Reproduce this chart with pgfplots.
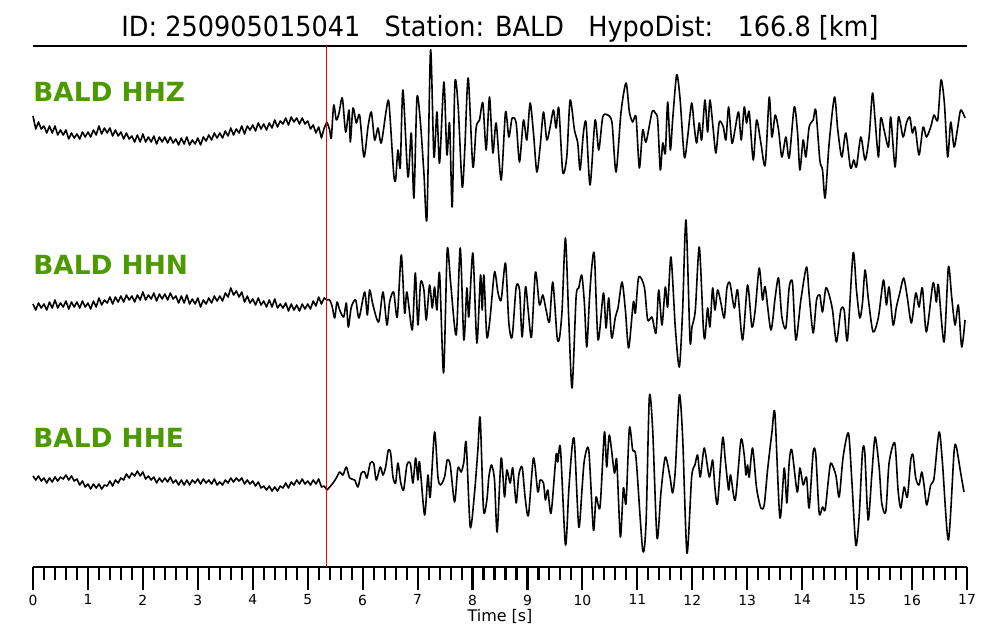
\documentclass[border=0pt]{standalone}
\usepackage{fontspec}
\setmainfont{DejaVu Sans}
\newfontfamily\titlefont[FakeStretch=0.92]{DejaVu Sans}
\usepackage{pgfplots}
\pgfplotsset{compat=1.18}
\definecolor{lblgreen}{RGB}{76,153,0}
\begin{document}
\begin{tikzpicture}
\path[use as bounding box] (0,0) rectangle (720pt,460.8pt);
\node[anchor=base, inner sep=0pt] at (360pt,434.2pt) {\titlefont\fontsize{20}{24}\selectfont ID: 250905015041\ \ \ Station: BALD\ \ \ HypoDist:\ \ \ 166.8 [km]};
\node[anchor=center, inner sep=0pt] at (360pt,16.6pt) {\fontsize{11.5}{13}\selectfont Time [s]};
\begin{axis}[
  at={(23.76pt,52.56pt)}, anchor=south west,
  scale only axis, width=672.48pt, height=375.12pt,
  xmin=0, xmax=17, ymin=46, ymax=567, y dir=reverse,
  axis y line=none, axis x line*=bottom,
  axis line style={line width=1.4pt, black},
  xtick={0,1,...,17}, minor x tick num=4,
  tick align=outside,
  major tick length=16.5pt, minor tick length=9.4pt,
  tick style={black, line width=1.5pt},
  xtick style={black, line width=1.5pt},
  /pgf/number format/assume math mode=true,
  xticklabel style={font=\fontsize{10}{11}\selectfont},
  clip=false,
  noise/.style={black, line width=1.15pt, mark=none, line join=round},
  sig/.style={black, line width=1.15pt, mark=none, smooth, tension=0.45, line join=round},
]
\draw[line width=1.1pt] (axis cs:0,46) -- (axis cs:17,46);
% HHZ
\addplot[noise] coordinates {
(0.00,116)(0.05,129)(0.10,122)(0.15,129)(0.20,126)(0.25,133)(0.30,126)(0.35,133)(0.40,126)(0.45,135)(0.50,130)(0.55,135)(0.60,130)(0.65,139)(0.70,133)(0.75,138)(0.80,134)(0.85,139)(0.90,132)(0.95,137)(1.00,132)(1.05,137)(1.10,130)(1.15,135)(1.20,126)(1.25,134)(1.30,128)(1.35,133)(1.40,128)(1.45,136)(1.50,130)(1.55,136)(1.60,132)(1.65,139)(1.70,133)(1.75,139)(1.80,136)(1.85,142)(1.90,135)(1.95,142)(2.00,134)(2.05,142)(2.10,137)(2.15,142)(2.20,136)(2.25,144)(2.30,137)(2.35,142)(2.40,137)(2.45,143)(2.50,137)(2.55,143)(2.60,139)(2.65,145)(2.70,138)(2.75,144)(2.80,137)(2.85,145)(2.90,140)(2.95,144)(3.00,138)(3.05,145)(3.10,137)(3.15,141)(3.20,135)(3.25,140)(3.30,133)(3.35,138)(3.40,133)(3.45,138)(3.50,131)(3.55,136)(3.60,128)(3.65,135)(3.70,129)(3.75,133)(3.80,126)(3.85,134)(3.90,126)(3.95,130)(4.00,125)(4.05,131)(4.10,123)(4.15,129)(4.20,124)(4.25,130)(4.30,123)(4.35,128)(4.40,120)(4.45,127)(4.50,121)(4.55,124)(4.60,118)(4.65,125)(4.70,117)(4.75,122)(4.80,118)(4.85,124)(4.90,118)(4.95,124)(5.00,121)(5.05,129)(5.10,125)(5.15,133)(5.20,127)(5.25,138)(5.30,128)(5.35,122)
};
\addplot[sig] coordinates {
(5.35,122)(5.400,130)(5.430,138)(5.473,105)(5.521,120)(5.570,113)(5.630,98)(5.691,132)(5.752,110)(5.776,142)(5.824,108)(5.885,123)(5.945,115)(6.024,157)(6.097,127)(6.158,112)(6.218,140)(6.279,128)(6.339,143)(6.430,110)(6.479,103)(6.564,173)(6.600,180)(6.642,150)(6.685,167)(6.733,90)(6.824,177)(6.885,133)(6.933,198)(6.988,98)(7.048,120)(7.115,173)(7.170,218)(7.236,50)(7.297,157)(7.352,112)(7.400,163)(7.479,82)(7.533,155)(7.582,123)(7.630,207)(7.679,83)(7.739,107)(7.812,187)(7.861,147)(7.921,78)(8.006,167)(8.067,127)(8.127,120)(8.188,103)(8.248,150)(8.309,97)(8.370,153)(8.430,123)(8.521,180)(8.600,112)(8.661,137)(8.721,118)(8.794,123)(8.855,162)(8.927,120)(8.988,140)(9.048,103)(9.109,133)(9.170,172)(9.230,147)(9.291,112)(9.352,140)(9.412,127)(9.473,110)(9.521,128)(9.570,108)(9.642,172)(9.715,157)(9.776,100)(9.855,130)(9.915,143)(9.958,170)(10.018,133)(10.067,123)(10.139,185)(10.230,120)(10.297,150)(10.370,117)(10.461,115)(10.539,123)(10.612,172)(10.703,112)(10.794,83)(10.855,112)(10.915,122)(10.976,117)(11.036,168)(11.097,130)(11.158,142)
(11.267,112)(11.327,113)(11.370,120)(11.418,170)(11.461,143)(11.509,153)(11.552,102)(11.600,150)(11.642,120)(11.715,75)(11.776,98)(11.855,157)(11.915,137)(11.988,103)(12.036,127)(12.079,143)(12.127,123)(12.170,140)(12.230,100)(12.279,132)(12.321,100)(12.382,130)(12.430,153)(12.491,122)(12.564,127)(12.612,140)(12.661,107)(12.721,143)(12.782,128)(12.842,112)(12.891,140)(12.945,107)(12.988,123)(13.036,112)(13.109,160)(13.170,120)(13.248,143)(13.327,165)(13.400,97)(13.448,137)(13.509,115)(13.570,130)(13.630,157)(13.703,137)(13.764,158)(13.855,107)(13.915,132)(13.958,170)(14.018,140)(14.067,157)(14.127,127)(14.200,120)(14.248,110)(14.321,160)(14.370,170)(14.418,198)(14.491,143)(14.588,97)(14.648,130)(14.721,157)(14.794,133)(14.879,168)(14.939,160)(14.988,167)(15.067,137)(15.145,160)(15.218,137)(15.279,93)(15.327,120)(15.388,157)(15.430,118)(15.491,130)(15.570,147)(15.612,117)(15.691,167)(15.752,117)(15.836,137)(15.897,123)(15.958,117)(16.006,133)(16.055,127)(16.127,155)(16.200,127)(16.261,137)(16.339,127)(16.400,115)(16.467,120)(16.527,80)(16.588,103)(16.648,157)(16.703,122)(16.764,147)(16.824,130)(16.885,110)(16.964,118)
};
% HHN
\addplot[noise] coordinates {
(0.00,304)(0.05,310)(0.10,303)(0.15,308)(0.20,304)(0.25,310)(0.30,302)(0.35,308)(0.40,300)(0.45,308)(0.50,303)(0.55,307)(0.60,301)(0.65,309)(0.70,302)(0.75,307)(0.80,302)(0.85,308)(0.90,301)(0.95,307)(1.00,303)(1.05,309)(1.10,301)(1.15,307)(1.20,298)(1.25,305)(1.30,300)(1.35,303)(1.40,297)(1.45,304)(1.50,297)(1.55,302)(1.60,296)(1.65,302)(1.70,295)(1.75,300)(1.80,296)(1.85,302)(1.90,295)(1.95,300)(2.00,292)(2.05,300)(2.10,295)(2.15,299)(2.20,293)(2.25,301)(2.30,294)(2.35,299)(2.40,294)(2.45,300)(2.50,293)(2.55,299)(2.60,296)(2.65,303)(2.70,296)(2.75,303)(2.80,295)(2.85,304)(2.90,299)(2.95,304)(3.00,298)(3.05,307)(3.10,300)(3.15,304)(3.20,298)(3.25,303)(3.30,296)(3.35,301)(3.40,296)(3.45,301)(3.50,293)(3.55,297)(3.60,288)(3.65,295)(3.70,291)(3.75,297)(3.80,292)(3.85,302)(3.90,296)(3.95,303)(4.00,299)(4.05,305)(4.10,298)(4.15,305)(4.20,301)(4.25,307)(4.30,300)(4.35,307)(4.40,299)(4.45,308)(4.50,304)(4.55,308)(4.60,303)(4.65,311)(4.70,304)(4.75,310)(4.80,305)(4.85,311)(4.90,304)(4.95,309)(5.00,304)(5.05,309)(5.10,301)(5.15,306)(5.20,297)(5.25,304)(5.30,298)(5.35,300)
};
\addplot[sig] coordinates {
(5.35,300)(5.400,300)(5.448,307)(5.491,318)(5.533,302)(5.582,310)(5.655,317)(5.703,303)(5.739,327)(5.794,307)(5.873,300)(5.933,318)(6.036,292)(6.085,315)(6.127,290)(6.188,305)(6.291,322)(6.370,292)(6.442,325)(6.491,302)(6.564,292)(6.630,317)(6.703,255)(6.764,313)(6.806,292)(6.903,330)(6.958,273)(7.006,325)(7.055,282)(7.115,290)(7.158,320)(7.218,285)(7.267,308)(7.309,287)(7.352,310)(7.400,273)(7.473,373)(7.539,250)(7.600,282)(7.703,335)(7.776,248)(7.842,340)(7.897,288)(7.933,317)(8.006,253)(8.079,343)(8.145,275)(8.176,310)(8.206,275)(8.261,337)(8.321,317)(8.400,272)(8.461,292)(8.521,300)(8.600,263)(8.661,323)(8.721,337)(8.794,287)(8.855,290)(8.903,337)(8.964,287)(9.012,310)(9.073,337)(9.145,272)(9.218,305)(9.279,295)(9.339,310)(9.400,322)(9.461,282)(9.539,337)(9.582,338)(9.630,310)(9.691,238)(9.752,320)(9.812,388)(9.885,297)(9.933,288)(9.988,275)(10.036,303)(10.079,347)(10.127,300)(10.170,267)(10.218,255)(10.285,340)(10.382,293)(10.430,328)(10.479,298)(10.533,338)(10.600,317)(10.648,308)(10.721,282)(10.782,310)(10.842,348)(10.927,302)(10.964,313)(11.024,277)(11.127,287)(11.188,320)
(11.267,317)(11.339,333)(11.388,290)(11.448,325)(11.509,287)(11.552,307)(11.612,257)(11.691,328)(11.764,367)(11.824,310)(11.885,220)(11.958,340)(11.994,327)(12.055,310)(12.127,247)(12.200,327)(12.230,338)(12.279,308)(12.321,327)(12.370,288)(12.412,310)(12.461,290)(12.521,303)(12.582,318)(12.630,288)(12.685,283)(12.764,308)(12.824,290)(12.915,340)(13.006,285)(13.085,327)(13.145,310)(13.218,268)(13.279,300)(13.327,287)(13.430,330)(13.509,297)(13.570,278)(13.630,317)(13.703,328)(13.764,287)(13.824,283)(13.885,340)(13.976,300)(14.079,267)(14.127,295)(14.200,333)(14.261,300)(14.321,295)(14.370,312)(14.430,288)(14.491,295)(14.552,310)(14.624,342)(14.703,310)(14.764,310)(14.824,340)(14.927,253)(14.988,290)(15.048,318)(15.097,303)(15.145,270)(15.206,300)(15.291,332)(15.388,317)(15.479,280)(15.533,305)(15.582,287)(15.655,325)(15.715,307)(15.776,293)(15.848,278)(15.915,298)(15.988,323)(16.067,293)(16.127,307)(16.188,288)(16.261,332)(16.382,283)(16.442,302)(16.479,285)(16.582,342)(16.661,267)(16.721,297)(16.782,325)(16.842,305)(16.903,347)(16.964,320)
};
% HHE
\addplot[noise] coordinates {
(0.00,476)(0.05,480)(0.10,476)(0.15,481)(0.20,478)(0.25,483)(0.30,478)(0.35,482)(0.40,477)(0.45,481)(0.50,477)(0.55,479)(0.60,475)(0.65,480)(0.70,476)(0.75,481)(0.80,479)(0.85,485)(0.90,481)(0.95,487)(1.00,484)(1.05,489)(1.10,484)(1.15,488)(1.20,484)(1.25,489)(1.30,485)(1.35,486)(1.40,481)(1.45,486)(1.50,480)(1.55,483)(1.60,478)(1.65,480)(1.70,474)(1.75,478)(1.80,473)(1.85,476)(1.90,471)(1.95,476)(2.00,472)(2.05,479)(2.10,476)(2.15,480)(2.20,477)(2.25,483)(2.30,478)(2.35,482)(2.40,478)(2.45,482)(2.50,477)(2.55,483)(2.60,480)(2.65,485)(2.70,480)(2.75,485)(2.80,480)(2.85,485)(2.90,480)(2.95,483)(3.00,479)(3.05,484)(3.10,479)(3.15,483)(3.20,480)(3.25,484)(3.30,479)(3.35,485)(3.40,482)(3.45,485)(3.50,480)(3.55,483)(3.60,478)(3.65,482)(3.70,478)(3.75,481)(3.80,478)(3.85,484)(3.90,480)(3.95,484)(4.00,481)(4.05,486)(4.10,482)(4.15,488)(4.20,486)(4.25,490)(4.30,486)(4.35,491)(4.40,487)(4.45,491)(4.50,486)(4.55,488)(4.60,483)(4.65,488)(4.70,482)(4.75,485)(4.80,480)(4.85,484)(4.90,479)(4.95,484)(5.00,481)(5.05,485)(5.10,480)(5.15,484)(5.20,479)(5.25,487)(5.30,486)(5.35,490)
};
\addplot[sig] coordinates {
(5.35,490)(5.400,487)(5.461,483)(5.521,478)(5.582,472)(5.642,475)(5.703,467)(5.764,478)(5.855,480)(5.915,487)(5.976,473)(6.036,472)(6.079,478)(6.139,463)(6.200,463)(6.248,480)(6.321,467)(6.370,475)(6.418,467)(6.467,450)(6.509,453)(6.552,477)(6.600,483)(6.642,463)(6.691,482)(6.745,490)(6.806,465)(6.867,463)(6.915,483)(6.964,458)(7.006,480)(7.036,462)(7.127,515)(7.188,475)(7.230,497)(7.309,432)(7.370,477)(7.418,485)(7.491,477)(7.539,460)(7.594,465)(7.673,502)(7.733,468)(7.794,472)(7.842,462)(7.885,443)(7.958,527)(8.036,493)(8.097,450)(8.139,418)(8.200,510)(8.261,500)(8.297,477)(8.345,465)(8.400,480)(8.448,532)(8.521,458)(8.582,497)(8.624,470)(8.685,483)(8.733,468)(8.794,503)(8.842,475)(8.903,467)(8.958,498)(9.018,515)(9.109,458)(9.188,492)(9.230,480)(9.291,483)(9.327,500)(9.370,490)(9.430,513)(9.521,455)(9.552,462)(9.600,448)(9.691,545)(9.752,490)(9.812,447)(9.855,442)(9.933,527)(9.994,488)(10.036,460)(10.115,450)(10.200,530)(10.248,497)(10.321,507)(10.400,432)(10.442,467)(10.491,435)(10.582,473)(10.624,460)(10.691,537)(10.745,488)(10.794,503)(10.855,428)(10.915,450)(10.976,458)(11.097,550)(11.158,523)(11.218,397)
(11.279,430)(11.358,538)(11.430,492)(11.509,457)(11.594,477)(11.642,493)(11.691,470)(11.764,395)(11.824,437)(11.903,553)(11.988,477)(12.048,465)(12.097,455)(12.145,477)(12.218,448)(12.309,477)(12.370,460)(12.412,488)(12.461,503)(12.552,438)(12.600,460)(12.661,490)(12.697,475)(12.782,500)(12.885,440)(12.945,455)(12.976,475)(13.006,465)(13.036,477)(13.097,448)(13.170,488)(13.248,508)(13.309,505)(13.370,470)(13.448,433)(13.503,413)(13.594,518)(13.673,468)(13.721,503)(13.764,462)(13.812,450)(13.909,492)(13.958,468)(14.018,485)(14.079,477)(14.127,508)(14.200,452)(14.248,455)(14.309,513)(14.370,507)(14.418,510)(14.473,482)(14.521,463)(14.612,475)(14.673,497)(14.745,457)(14.842,433)(14.903,480)(14.976,545)(15.036,517)(15.097,452)(15.139,452)(15.200,520)(15.267,475)(15.327,437)(15.400,467)(15.448,503)(15.521,512)(15.582,463)(15.685,443)(15.745,490)(15.794,508)(15.855,487)(15.915,497)(15.976,460)(16.018,455)(16.067,478)(16.127,485)(16.176,472)(16.218,485)(16.267,505)(16.339,485)(16.400,478)(16.491,432)(16.552,462)(16.661,540)(16.764,452)(16.806,447)(16.885,473)(16.945,492)
};
\draw[red, line width=0.8pt] (axis cs:5.35,46) -- (axis cs:5.35,567);
\node[anchor=base west, inner sep=0pt, text=lblgreen, font=\bfseries\fontsize{19}{22}\selectfont] at (axis cs:0,101) {BALD HHZ};
\node[anchor=base west, inner sep=0pt, text=lblgreen, font=\bfseries\fontsize{19}{22}\selectfont] at (axis cs:0,274) {BALD HHN};
\node[anchor=base west, inner sep=0pt, text=lblgreen, font=\bfseries\fontsize{19}{22}\selectfont] at (axis cs:0,447) {BALD HHE};
\end{axis}
\end{tikzpicture}
\end{document}
